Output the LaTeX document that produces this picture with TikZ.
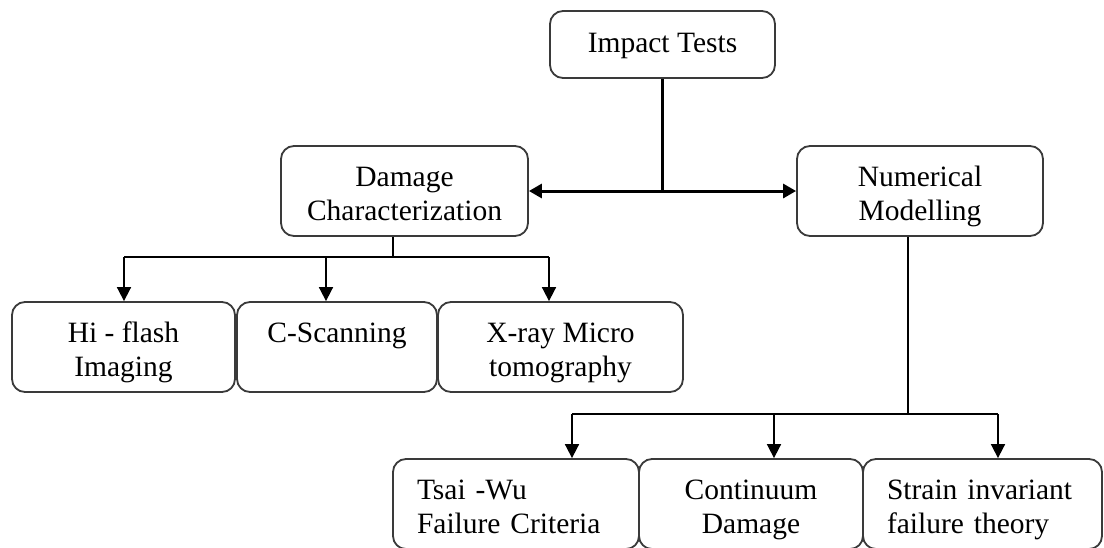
\documentclass[tikz,border=0pt]{standalone}
\usepackage{fontspec}
\setmainfont{Liberation Serif}
\usetikzlibrary{arrows.meta,calc}
\definecolor{boxgray}{HTML}{3A3A3A}
\newcommand\twoline[2]{\rule{0pt}{32pt}#1\\#2\rule[-8pt]{0pt}{8pt}}
\begin{document}
\begin{tikzpicture}[x=1pt,y=-1pt,
  box/.style={draw=boxgray,line width=1.8pt,rounded corners=13pt,inner sep=0pt,
    align=center,minimum height=90pt,font=\fontsize{29.5pt}{34pt}\selectfont},
  conn/.style={draw=black,line width=1.7pt},
  mainconn/.style={draw=black,line width=3pt},
  tip/.style={-{Triangle[length=14pt,width=14pt]}},
  bitip/.style={{Triangle[length=13pt,width=14pt]}-{Triangle[length=13pt,width=14pt]}}]
\clip (0,0) rectangle (1104,547);
\fill[white] (0,0) rectangle (1104,547);
% nodes
\node[box,minimum width=225pt,minimum height=67pt] (impact) at (662.5,44.5) {\rule{0pt}{23pt}Impact Tests};
\node[box,minimum width=247pt] (damage) at (404.5,191) {\twoline{Damage}{Characterization}};
\node[box,minimum width=246pt] (numerical) at (920,191) {\twoline{Numerical}{Modelling}};
\node[box,minimum width=223pt] (hiflash) at (123.5,347) {\twoline{Hi - flash}{Imaging}};
\node[box,minimum width=200pt] (cscan) at (337,347) {\twoline{C-Scanning}{}};
\node[box,minimum width=245pt] (xray) at (560.5,347) {\twoline{X-ray Micro}{tomography}};
\node[box,minimum width=246pt,text width=198pt,align=left] (tsai) at (516,504) {\twoline{Tsai -Wu}{Failure Criteria}};
\node[box,minimum width=224pt] (continuum) at (751,504) {\twoline{Continuum}{Damage}};
\node[box,minimum width=239pt,text width=191pt,align=left] (strain) at (982.5,504) {\twoline{Strain invariant}{failure theory}};
% bus coordinates
\coordinate (hj) at (impact.south |- damage.east);
\coordinate (db) at (393,257);
\coordinate (d1) at (124,257);
\coordinate (d2) at (326,257);
\coordinate (d3) at (549,257);
\coordinate (nb) at (908,414);
\coordinate (n1) at (572,414);
\coordinate (n2) at (774,414);
\coordinate (n3) at (998,414);
% top level
\draw[mainconn] (impact.south) -- (hj);
\draw[mainconn,bitip] (damage.east) -- (numerical.west);
% damage branch
\draw[conn] (damage.south -| db) -- (db);
\draw[conn] (d1) -- (d3);
\draw[conn,tip] (d1) -- (hiflash.north -| d1);
\draw[conn,tip] (d2) -- (cscan.north -| d2);
\draw[conn,tip] (d3) -- (xray.north -| d3);
% numerical branch
\draw[conn] (numerical.south -| nb) -- (nb);
\draw[conn] (n1) -- (n3);
\draw[conn,tip] (n1) -- (tsai.north -| n1);
\draw[conn,tip] (n2) -- (continuum.north -| n2);
\draw[conn,tip] (n3) -- (strain.north -| n3);
\end{tikzpicture}
\end{document}
